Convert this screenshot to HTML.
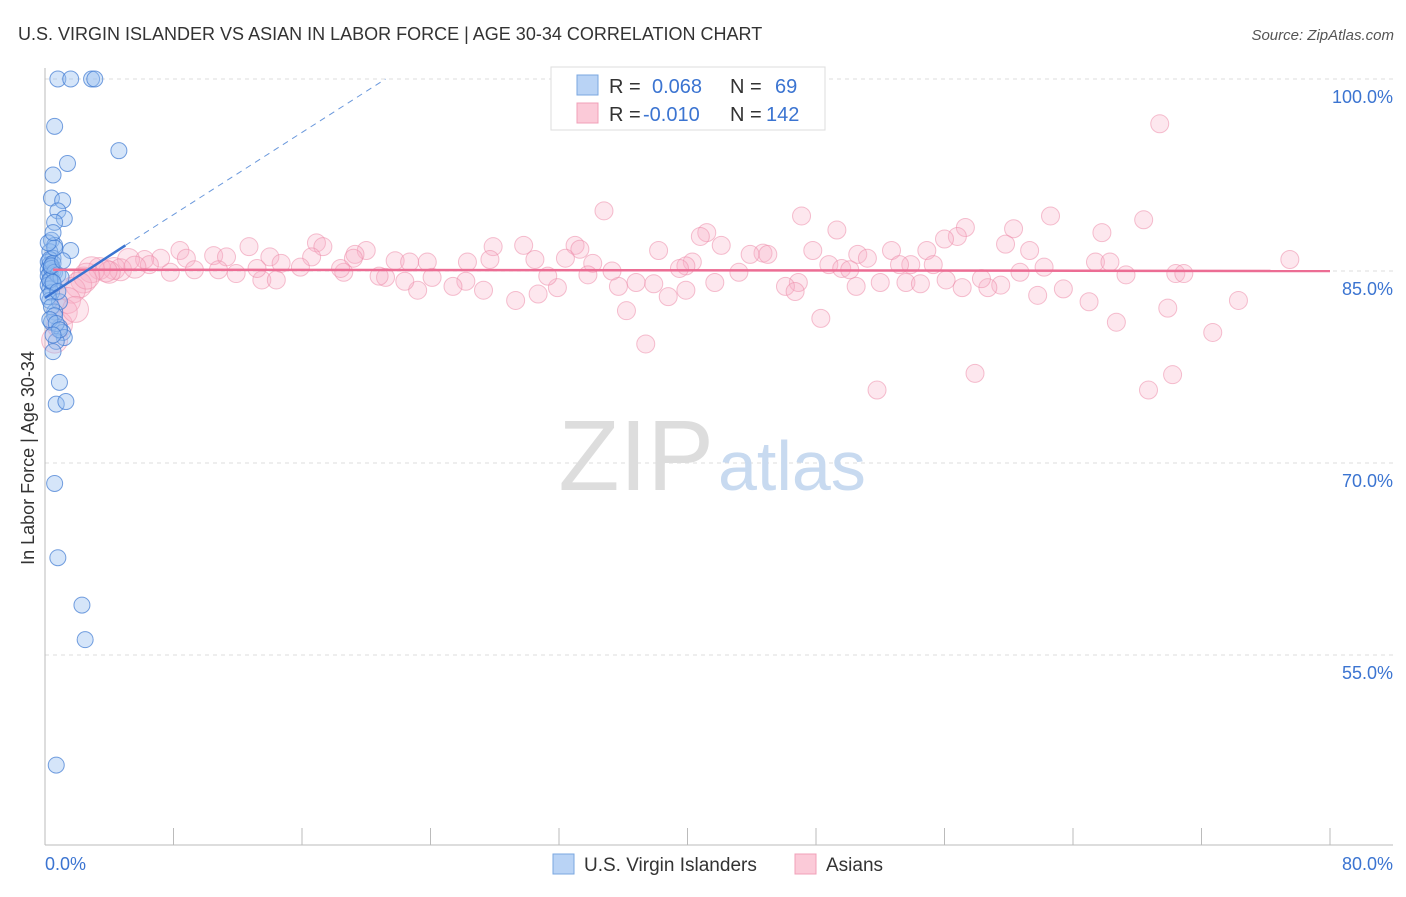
<!DOCTYPE html>
<html><head><meta charset="utf-8"><style>
body{margin:0;background:#fff;font-family:"Liberation Sans",sans-serif;}
svg text{font-family:"Liberation Sans",sans-serif;}
</style></head><body>
<svg id="chart" width="1406" height="892" xmlns="http://www.w3.org/2000/svg">
<text x="18" y="40" font-size="18" fill="#333">U.S. VIRGIN ISLANDER VS ASIAN IN LABOR FORCE | AGE 30-34 CORRELATION CHART</text>
<text x="1394" y="40" font-size="15" fill="#555" text-anchor="end" font-style="italic">Source: ZipAtlas.com</text>
<text transform="translate(34,458) rotate(-90)" font-size="18" fill="#333" text-anchor="middle">In Labor Force | Age 30-34</text>
<g id="grid"></g>
<g id="axes"></g>
<text x="714" y="490" font-size="100" fill="#ddd" text-anchor="end" font-family="Liberation Serif">ZIP</text>
<text x="718" y="490" font-size="70" fill="#c8daf0">atlas</text>
<g id="marks"></g>
<g>
<rect x="551" y="67" width="274" height="63" fill="#fff" stroke="#ddd"/>
<rect x="577" y="75" width="21" height="20" fill="#b9d3f5" stroke="#7aa7e0"/>
<rect x="577" y="103" width="21" height="20" fill="#fbcad8" stroke="#f0a0b8"/>
<text x="609" y="93" font-size="20" fill="#333">R = </text><text x="652" y="93" font-size="20" fill="#3b74d1">0.068</text>
<text x="730" y="93" font-size="20" fill="#333">N = </text><text x="775" y="93" font-size="20" fill="#3b74d1">69</text>
<text x="609" y="121" font-size="20" fill="#333">R = </text><text x="643" y="121" font-size="20" fill="#3b74d1">-0.010</text>
<text x="730" y="121" font-size="20" fill="#333">N = </text><text x="766" y="121" font-size="20" fill="#3b74d1">142</text>
</g>
<g>
<rect x="553" y="854" width="21" height="20" fill="#b9d3f5" stroke="#7aa7e0"/>
<text x="584" y="871" font-size="19" fill="#333">U.S. Virgin Islanders</text>
<rect x="795" y="854" width="21" height="20" fill="#fbcad8" stroke="#f0a0b8"/>
<text x="826" y="871" font-size="19" fill="#333">Asians</text>
</g>
</svg>
<script>
const yTicks=[100,85,70,55];
const yTickLabels=["100.0%","85.0%","70.0%","55.0%"];
const xTicks=[0,8,16,24,32,40,48,56,64,72,80];
const xEndLabels=["0.0%","80.0%"];
const blueX=[0.8,1.6,2.9,3.1,0.6,4.6,1.4,0.5,0.4,1.1,0.8,1.2,0.6,0.4,0.6,1.6,0.3,0.5,0.2,0.3,0.4,0.2,0.5,0.3,0.2,0.4,0.3,0.5,0.2,0.3,0.4,0.3,0.9,0.6,0.4,0.9,1.1,1.2,0.7,0.5,0.9,0.7,1.3,0.6,0.8,2.3,2.5,0.7,0.3,0.5,0.4,0.6,0.8,1.0,0.3,0.5,0.2,0.4,0.6,0.3,0.7,0.9,0.5,0.4,1.1,0.6,0.2,0.5,0.8];
const blueY=[100,100,100,100,96.3,94.4,93.4,92.5,90.7,90.5,89.7,89.1,88.8,87.4,87.0,86.6,86.5,86.0,85.7,85.5,85.3,85.1,85.0,84.8,84.6,84.4,84.2,84.0,83.9,83.6,83.3,82.7,82.6,81.8,81.0,80.6,80.2,79.8,79.5,78.7,76.3,74.6,74.8,68.4,62.6,58.9,56.2,46.4,85.9,85.6,85.2,84.9,84.7,84.5,84.3,84.1,83.0,82.2,81.5,81.2,80.9,80.4,80.0,85.4,85.8,86.8,87.2,88.0,83.4];
const pinkX=[34.8,69.4,47.1,62.6,68.4,57.3,41.2,49.3,60.3,65.8,40.8,56.8,56.0,42.1,27.9,29.8,33.0,33.3,59.8,16.9,17.3,12.7,8.4,20.0,38.2,47.8,52.7,54.9,61.3,44.7,45.0,43.9,50.6,51.2,30.5,10.5,11.3,8.8,14.0,16.6,19.3,19.2,21.8,22.7,23.8,26.3,27.7,32.4,34.1,40.3,53.9,55.3,65.4,66.3,48.8,49.6,50.1,62.2,67.3,70.4,70.9,77.5,72.7,74.3,69.9,66.7,65.0,63.4,61.8,60.7,59.5,58.7,58.3,53.6,54.5,56.1,52.0,50.5,46.9,46.1,46.7,43.2,41.7,39.9,39.5,38.8,39.9,37.9,36.8,36.2,35.7,35.3,33.8,31.9,31.3,30.7,29.3,27.3,26.2,25.4,24.1,23.2,21.2,20.8,22.4,18.6,18.4,15.9,14.7,13.5,14.4,13.2,11.9,10.8,9.3,7.8,7.2,6.2,5.2,6.5,4.3,4.7,3.4,4.0,2.9,2.4,2.1,1.7,1.4,1.2,0.9,0.6,70.2,51.8,57.9,68.7,48.3,37.4,53.2,57.1,3.8,2.6,5.6,1.9];
const pinkY=[89.7,96.5,89.3,89.3,89.0,88.4,88.0,88.2,88.3,88.0,87.7,87.7,87.5,87.0,86.9,87.0,87.0,86.7,87.1,87.2,86.9,86.9,86.6,86.6,86.6,86.6,86.6,86.6,86.6,86.4,86.3,86.3,86.3,86.0,85.9,86.2,86.1,86.0,86.1,86.1,86.3,86.0,85.8,85.7,85.7,85.7,85.9,86.0,85.6,85.7,85.5,85.5,85.7,85.7,85.5,85.2,85.1,85.3,84.7,84.8,84.8,85.9,80.2,82.7,82.1,81.0,82.6,83.6,83.1,84.9,83.9,83.7,84.4,84.1,84.0,84.3,84.1,83.8,84.1,83.8,83.4,84.9,84.1,85.4,85.2,83.0,83.5,84.0,84.1,81.9,83.8,85.0,84.7,83.7,84.6,83.2,82.7,83.5,84.2,83.8,84.5,83.5,84.5,84.6,84.2,84.9,85.2,85.3,85.6,84.3,84.3,85.2,84.8,85.1,85.1,84.9,86.0,85.9,85.9,85.5,85.2,85.1,85.2,84.9,85.1,84.3,83.9,83.5,82.7,81.8,80.8,79.6,76.9,75.7,77.0,75.7,81.3,79.3,85.5,83.7,85.0,84.6,85.3,82.0];
const blueTrend=[[0,82.9],[5,87.0]];
const blueTrendExt=[[5,87.0],[21.2,100]];
const pinkTrend=[[0.5,85.1],[80,85.0]];

const X0=45,X1=1330,Y100=79,PXPCT=12.8;
const xs=v=>X0+(X1-X0)*v/80;
const ys=v=>Y100+(100-v)*PXPCT;
const NS="http://www.w3.org/2000/svg";
function mk(tag,attrs,parent){const e=document.createElementNS(NS,tag);for(const k in attrs)e.setAttribute(k,attrs[k]);parent.appendChild(e);return e;}
const grid=document.getElementById('grid'),axes=document.getElementById('axes'),marks=document.getElementById('marks');
yTicks.forEach((t,i)=>{
  const l=mk('line',{x1:45,x2:1393,y1:ys(t),y2:ys(t),stroke:'#ddd','stroke-dasharray':'4,4'},grid);
  
  
  const tx=mk('text',{x:1393,y:ys(t)+24,'font-size':18,fill:'#3b74d1','text-anchor':'end'},axes);
  tx.textContent=yTickLabels[i];
  
  
});
const ax=mk('line',{x1:45,x2:1393,y1:845,y2:845,stroke:'#bbb'},axes);


const ay=mk('line',{x1:45,x2:45,y1:68,y2:845,stroke:'#bbb'},axes);


xTicks.forEach(t=>{
  const l=mk('line',{x1:xs(t),x2:xs(t),y1:828,y2:845,stroke:'#bbb'},axes);
  
  
});
const xl0=mk('text',{x:45,y:870,'font-size':18,fill:'#3b74d1'},axes);xl0.textContent=xEndLabels[0];


const xl1=mk('text',{x:1393,y:870,'font-size':18,fill:'#3b74d1','text-anchor':'end'},axes);xl1.textContent=xEndLabels[1];



pinkX.forEach((v,i)=>{
  const r=v<6?(v<3?13:11):9;
  const c=mk('circle',{cx:xs(v),cy:ys(pinkY[i]),r:r,fill:'rgba(248,175,198,0.3)',stroke:'rgba(236,140,170,0.55)','stroke-width':1},marks);
  
  
});
blueX.forEach((v,i)=>{
  const c=mk('circle',{cx:xs(v),cy:ys(blueY[i]),r:8,fill:'rgba(150,190,240,0.4)',stroke:'rgba(60,120,210,0.7)','stroke-width':1},marks);
  
  
});
const pt=mk('line',{x1:xs(pinkTrend[0][0]),y1:ys(pinkTrend[0][1]),x2:xs(pinkTrend[1][0]),y2:ys(pinkTrend[1][1]),stroke:'#ec6d94','stroke-width':2.5},marks);


const bt=mk('line',{x1:xs(blueTrend[0][0]),y1:ys(blueTrend[0][1]),x2:xs(blueTrend[1][0]),y2:ys(blueTrend[1][1]),stroke:'#3b74d1','stroke-width':2.5},marks);


const be=mk('line',{x1:xs(blueTrendExt[0][0]),y1:ys(blueTrendExt[0][1]),x2:xs(blueTrendExt[1][0]),y2:ys(blueTrendExt[1][1]),stroke:'#6a98dc','stroke-width':1,'stroke-dasharray':'6,5'},marks);


</script>
</body></html>
